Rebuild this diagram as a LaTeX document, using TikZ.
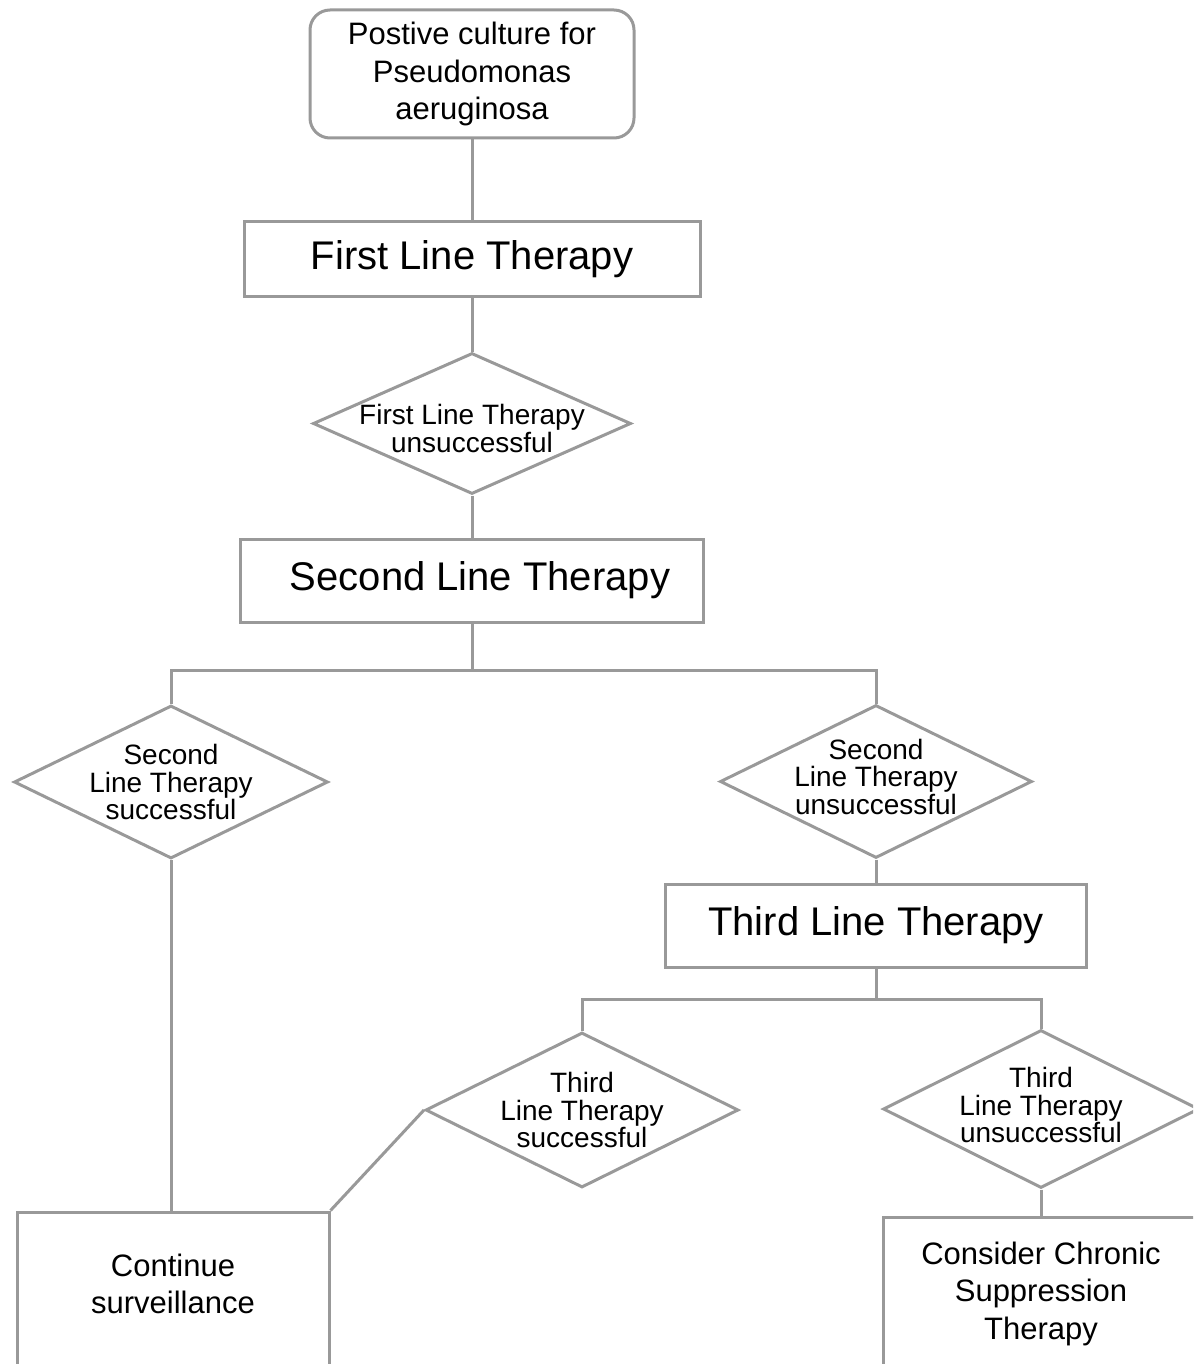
\documentclass[tikz,border=0pt]{standalone}
\usepackage{fontspec}
\setmainfont{Liberation Sans}
\usetikzlibrary{shapes.geometric}
\definecolor{lineGray}{RGB}{153,153,153}
\tikzset{
  box/.style={draw=lineGray, line width=3pt, rectangle, inner sep=0pt, align=center},
  rbox/.style={box, rounded corners=20pt},
  dia/.style={draw=lineGray, line width=3pt, diamond, inner sep=0pt},
  conn/.style={draw=lineGray, line width=3pt},
  bigtxt/.style={font=\fontsize{40}{48}\selectfont},
  midtxt/.style={font=\fontsize{31}{37.5}\selectfont},
  dtxt/.style={font=\fontsize{28}{27.5}\selectfont, align=center}
}
\begin{document}
\begin{tikzpicture}[x=1pt, y=-1pt]
\useasboundingbox (0,0) rectangle (1193,1364);
\clip (0,0) rectangle (1193,1364);
% boxes
\node[rbox, midtxt, minimum width=324pt, minimum height=128pt] (top) at (472,74)
  {Postive culture for\\Pseudomonas\\aeruginosa};
\node[box, bigtxt, minimum width=456pt, minimum height=74pt] (first) at (472,259) {First Line Therapy};
\node[dia, minimum width=318pt, minimum height=141pt,
  label={[dtxt, yshift=-5pt]center:First Line Therapy\\unsuccessful}] (d1) at (472,423.5) {};
\node[box, bigtxt, minimum width=463pt, minimum height=83pt] (second) at (472,580.5) {\hspace*{16pt}Second Line Therapy};
\node[dia, minimum width=314pt, minimum height=153pt,
  label={[dtxt]center:Second\\Line Therapy\\successful}] (d2l) at (171,782) {};
\node[dia, minimum width=312pt, minimum height=153pt,
  label={[dtxt, yshift=5pt]center:Second\\Line Therapy\\unsuccessful}] (d2r) at (876,781.5) {};
\node[box, bigtxt, minimum width=421pt, minimum height=83pt] (third) at (876,925.5) {Third Line Therapy};
\node[dia, minimum width=313pt, minimum height=155pt,
  label={[dtxt]center:Third\\Line Therapy\\successful}] (d3s) at (582,1110) {};
\node[dia, minimum width=316pt, minimum height=158pt,
  label={[dtxt, yshift=4pt]center:Third\\Line Therapy\\unsuccessful}] (d3u) at (1041,1109) {};
\node[box, minimum width=312pt, minimum height=158pt,
  label={[midtxt, align=center, yshift=7pt]center:Continue\\surveillance}] (cont) at (173,1291) {};
\node[box, minimum width=316pt, minimum height=153pt,
  label={[midtxt, align=center]center:Consider Chronic\\Suppression\\Therapy}] (cons) at (1041,1293.5) {};
% junctions
\coordinate (j1) at (472,670);
\coordinate (j2) at (876,999);
% connectors
\draw[conn] (top.south) -- (first.north);
\draw[conn] (first.south) -- (d1.north);
\draw[conn] (d1.south) -- (second.north);
\draw[conn] (second.south) -- (j1);
\draw[conn] (d2l.north) |- (j1) -| (d2r.north);
\draw[conn] (d2r.south) -- (third.north);
\draw[conn] (third.south) -- (j2);
\draw[conn] (d3s.north) |- (j2) -| (d3u.north);
\draw[conn] (d2l.south) -- (d2l.south |- cont.north);
\draw[conn] (d3s.west) -- (cont.north east);
\draw[conn] (d3u.south) -- (cons.north);
\end{tikzpicture}
\end{document}
